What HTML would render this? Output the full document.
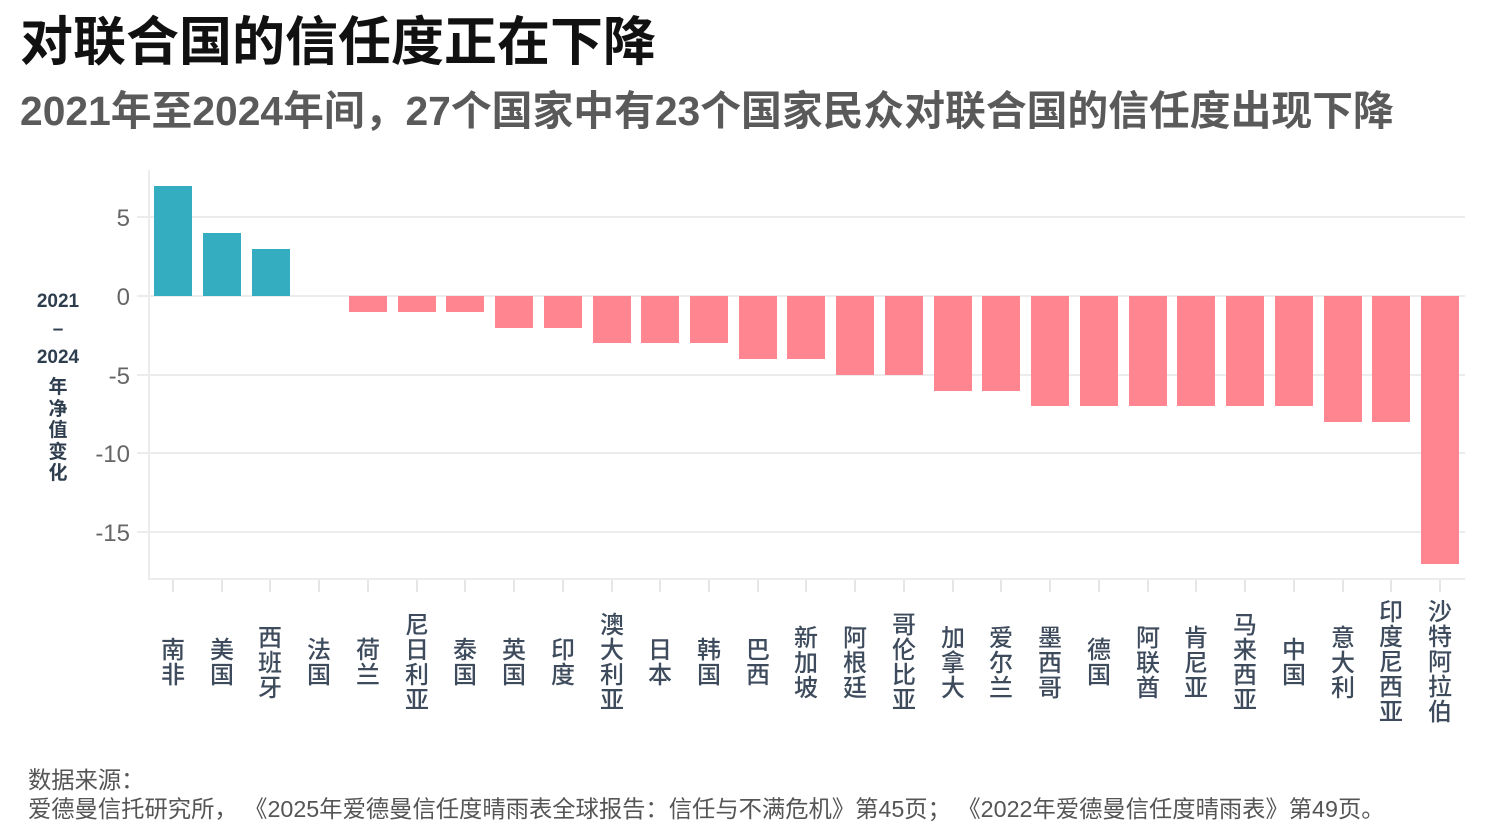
<!DOCTYPE html>
<html><head><meta charset="utf-8"><style>
body{margin:0;width:1496px;height:834px;background:#fff;position:relative;overflow:hidden;font-family:"Liberation Sans","Noto Sans CJK SC",sans-serif}
.t{position:absolute;left:20px;top:0px;font-size:53px;font-weight:bold;color:#111;white-space:nowrap}
.s{position:absolute;left:20px;top:78px;font-size:40.8px;font-weight:bold;color:#5a5a5a;white-space:nowrap}
.src{position:absolute;left:28px;font-size:23.3px;color:#555;white-space:nowrap}
.lab{position:absolute;width:30px;text-align:center;font-size:24px;line-height:25px;color:#3d4b5c;font-weight:500}
.yl{position:absolute;left:28px;width:60px;text-align:center;font-weight:bold;color:#2f3e4e;font-size:19px}
</style></head><body>
<div class="t">对联合国的信任度正在下降</div>
<div class="s">2021年至2024年间，27个国家中有23个国家民众对联合国的信任度出现下降</div>
<svg width="1496" height="834" style="position:absolute;left:0;top:0">
<g stroke="#ececec" stroke-width="2">
<line x1="137" y1="217" x2="1465" y2="217"/><line x1="137" y1="296" x2="1465" y2="296"/><line x1="137" y1="375" x2="1465" y2="375"/><line x1="137" y1="453" x2="1465" y2="453"/><line x1="137" y1="532" x2="1465" y2="532"/>
<line x1="149" y1="170" x2="149" y2="580"/><line x1="149" y1="579" x2="1465" y2="579"/>
</g>
<g stroke="#e6e6e6" stroke-width="2">
<line x1="173" y1="580" x2="173" y2="592"/><line x1="222" y1="580" x2="222" y2="592"/><line x1="270" y1="580" x2="270" y2="592"/><line x1="319" y1="580" x2="319" y2="592"/><line x1="368" y1="580" x2="368" y2="592"/><line x1="417" y1="580" x2="417" y2="592"/><line x1="465" y1="580" x2="465" y2="592"/><line x1="514" y1="580" x2="514" y2="592"/><line x1="563" y1="580" x2="563" y2="592"/><line x1="612" y1="580" x2="612" y2="592"/><line x1="660" y1="580" x2="660" y2="592"/><line x1="709" y1="580" x2="709" y2="592"/><line x1="758" y1="580" x2="758" y2="592"/><line x1="806" y1="580" x2="806" y2="592"/><line x1="855" y1="580" x2="855" y2="592"/><line x1="904" y1="580" x2="904" y2="592"/><line x1="953" y1="580" x2="953" y2="592"/><line x1="1001" y1="580" x2="1001" y2="592"/><line x1="1050" y1="580" x2="1050" y2="592"/><line x1="1099" y1="580" x2="1099" y2="592"/><line x1="1148" y1="580" x2="1148" y2="592"/><line x1="1196" y1="580" x2="1196" y2="592"/><line x1="1245" y1="580" x2="1245" y2="592"/><line x1="1294" y1="580" x2="1294" y2="592"/><line x1="1343" y1="580" x2="1343" y2="592"/><line x1="1391" y1="580" x2="1391" y2="592"/><line x1="1440" y1="580" x2="1440" y2="592"/>
</g>
<g font-size="24" fill="#666" text-anchor="end" font-family="Liberation Sans,sans-serif">
<text x="130" y="226">5</text><text x="130" y="305">0</text><text x="130" y="384">-5</text><text x="130" y="462">-10</text><text x="130" y="541">-15</text>
</g>
<g fill="#35adc1">
<rect x="154" y="186" width="38" height="110"/><rect x="203" y="233" width="38" height="63"/><rect x="252" y="249" width="38" height="47"/>
</g>
<g fill="#ff8591">
<rect x="349" y="296" width="38" height="16"/><rect x="398" y="296" width="38" height="16"/><rect x="446" y="296" width="38" height="16"/>
<rect x="495" y="296" width="38" height="32"/><rect x="544" y="296" width="38" height="32"/>
<rect x="593" y="296" width="38" height="47"/><rect x="641" y="296" width="38" height="47"/><rect x="690" y="296" width="38" height="47"/>
<rect x="739" y="296" width="38" height="63"/><rect x="787" y="296" width="38" height="63"/>
<rect x="836" y="296" width="38" height="79"/><rect x="885" y="296" width="38" height="79"/>
<rect x="934" y="296" width="38" height="95"/><rect x="982" y="296" width="38" height="95"/>
<rect x="1031" y="296" width="38" height="110"/><rect x="1080" y="296" width="38" height="110"/><rect x="1129" y="296" width="38" height="110"/><rect x="1177" y="296" width="38" height="110"/><rect x="1226" y="296" width="38" height="110"/><rect x="1275" y="296" width="38" height="110"/>
<rect x="1324" y="296" width="38" height="126"/><rect x="1372" y="296" width="38" height="126"/>
<rect x="1421" y="296" width="38" height="268"/>
</g>
</svg>
<div class="yl" style="top:291px">2021</div>
<div class="yl" style="top:319px">–</div>
<div class="yl" style="top:347px">2024</div>
<div class="yl" style="top:377px;line-height:21.5px">年<br>净<br>值<br>变<br>化</div>

<div class="lab" style="left:158px;top:638px">南<br>非</div>
<div class="lab" style="left:207px;top:638px">美<br>国</div>
<div class="lab" style="left:255px;top:626px">西<br>班<br>牙</div>
<div class="lab" style="left:304px;top:638px">法<br>国</div>
<div class="lab" style="left:353px;top:638px">荷<br>兰</div>
<div class="lab" style="left:402px;top:613px">尼<br>日<br>利<br>亚</div>
<div class="lab" style="left:450px;top:638px">泰<br>国</div>
<div class="lab" style="left:499px;top:638px">英<br>国</div>
<div class="lab" style="left:548px;top:638px">印<br>度</div>
<div class="lab" style="left:597px;top:613px">澳<br>大<br>利<br>亚</div>
<div class="lab" style="left:645px;top:638px">日<br>本</div>
<div class="lab" style="left:694px;top:638px">韩<br>国</div>
<div class="lab" style="left:743px;top:638px">巴<br>西</div>
<div class="lab" style="left:791px;top:626px">新<br>加<br>坡</div>
<div class="lab" style="left:840px;top:626px">阿<br>根<br>廷</div>
<div class="lab" style="left:889px;top:613px">哥<br>伦<br>比<br>亚</div>
<div class="lab" style="left:938px;top:626px">加<br>拿<br>大</div>
<div class="lab" style="left:986px;top:626px">爱<br>尔<br>兰</div>
<div class="lab" style="left:1035px;top:626px">墨<br>西<br>哥</div>
<div class="lab" style="left:1084px;top:638px">德<br>国</div>
<div class="lab" style="left:1133px;top:626px">阿<br>联<br>酋</div>
<div class="lab" style="left:1181px;top:626px">肯<br>尼<br>亚</div>
<div class="lab" style="left:1230px;top:613px">马<br>来<br>西<br>亚</div>
<div class="lab" style="left:1279px;top:638px">中<br>国</div>
<div class="lab" style="left:1328px;top:626px">意<br>大<br>利</div>
<div class="lab" style="left:1376px;top:600px">印<br>度<br>尼<br>西<br>亚</div>
<div class="lab" style="left:1425px;top:600px">沙<br>特<br>阿<br>拉<br>伯</div>

<div class="src" style="top:761px">数据来源：</div>
<div class="src" style="top:790px">爱德曼信托研究所，&nbsp;《2025年爱德曼信任度晴雨表全球报告：信任与不满危机》第45页；&nbsp;《2022年爱德曼信任度晴雨表》第49页。</div>
</body></html>
